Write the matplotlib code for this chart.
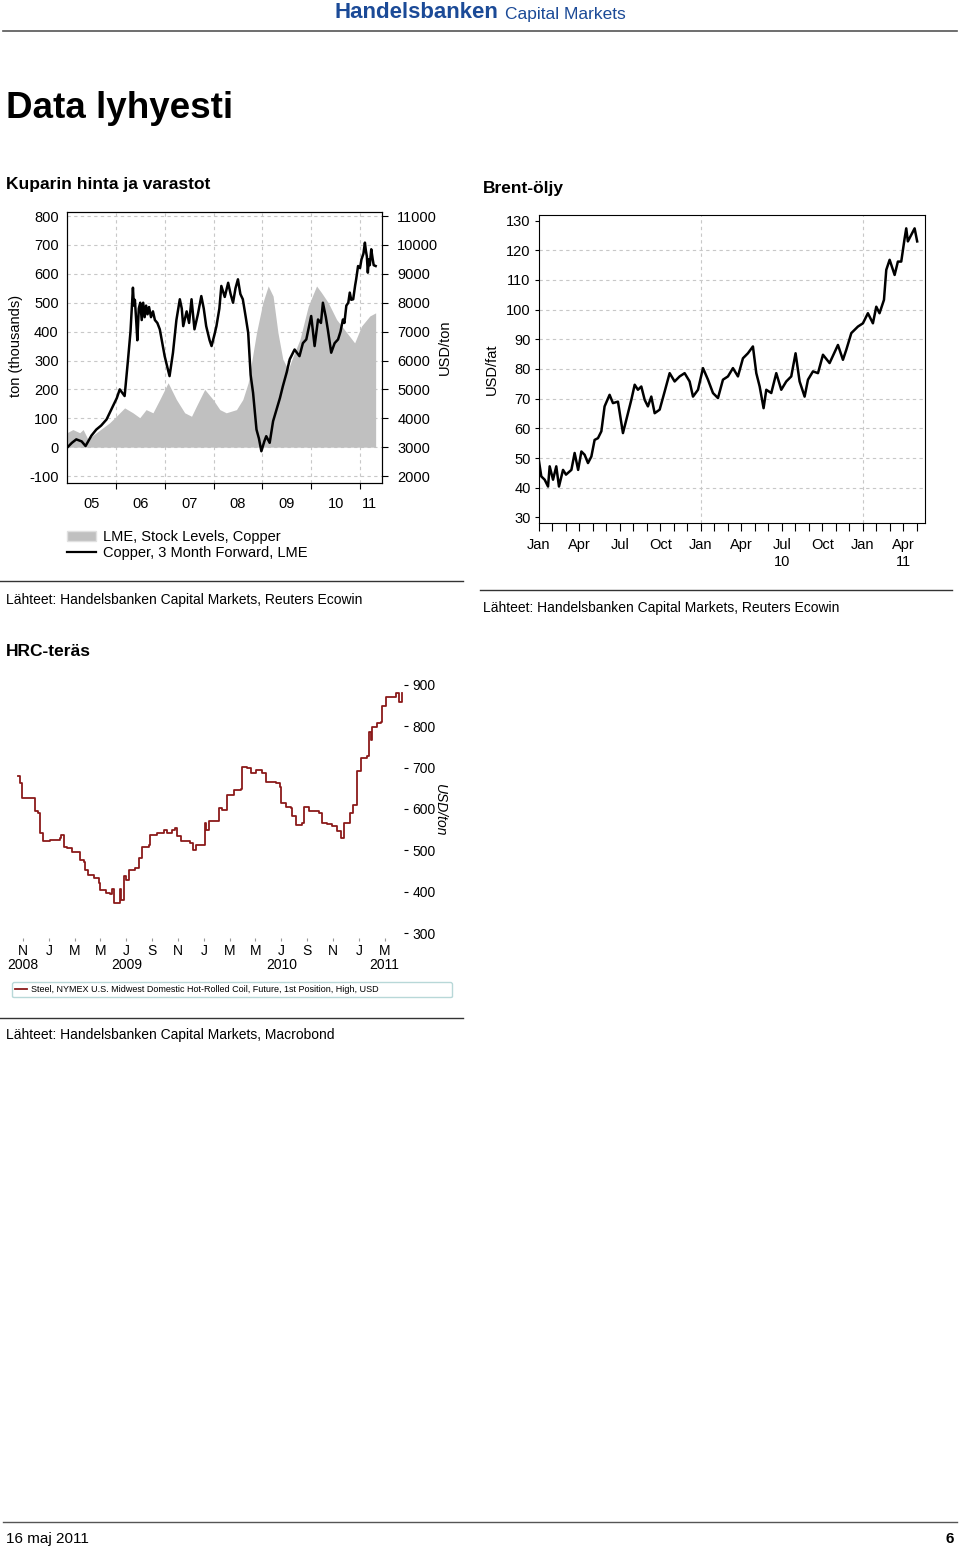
import matplotlib.pyplot as plt
import matplotlib.ticker as mticker
from matplotlib.lines import Line2D
from matplotlib.patches import Patch

plt.rcParams['font.family'] = ['Liberation Sans', 'DejaVu Sans']
plt.rcParams['axes.unicode_minus'] = False

W, H = 960, 1550

# --- Kupari: hinta (USD/ton) ja LME-varastot (tuhatta tonnia) ---
cu_year = [2005.00, 2005.10, 2005.19, 2005.30, 2005.38, 2005.50, 2005.60, 2005.70, 2005.81, 2005.94,
           2006.02, 2006.08, 2006.18, 2006.25, 2006.30, 2006.35, 2006.37, 2006.39, 2006.42, 2006.44,
           2006.47, 2006.50, 2006.53, 2006.56, 2006.59, 2006.62, 2006.65, 2006.68, 2006.72, 2006.76,
           2006.80, 2006.85, 2006.90, 2007.00, 2007.05, 2007.10, 2007.17,
           2007.24, 2007.31, 2007.35, 2007.38, 2007.45, 2007.50, 2007.55, 2007.61, 2007.68, 2007.75,
           2007.80, 2007.85, 2007.92, 2007.96, 2008.02, 2008.06, 2008.12, 2008.16, 2008.23, 2008.30,
           2008.35, 2008.40, 2008.45, 2008.50, 2008.55, 2008.60, 2008.66, 2008.71, 2008.76, 2008.81,
           2008.88, 2008.93, 2008.98, 2009.04, 2009.08, 2009.15, 2009.22, 2009.29, 2009.36, 2009.42,
           2009.50, 2009.56, 2009.66, 2009.76, 2009.83, 2009.90, 2010.00, 2010.07, 2010.14, 2010.20,
           2010.24, 2010.30, 2010.34, 2010.41, 2010.48, 2010.55, 2010.60, 2010.65, 2010.68, 2010.72,
           2010.76, 2010.79, 2010.82, 2010.86, 2010.90, 2010.92, 2010.96, 2011.00, 2011.03, 2011.07,
           2011.10, 2011.12, 2011.14, 2011.16, 2011.18, 2011.20, 2011.23, 2011.26, 2011.28, 2011.32]
cu_price = [2980, 3150, 3270, 3200, 3040, 3400, 3610, 3750, 3960, 4420,
            4700, 5000, 4770, 6040, 7000, 8520, 7900, 8100, 7300, 6700,
            7800, 8000, 7400, 8000, 7500, 7900, 7600, 7850, 7500, 7700,
            7400, 7300, 7080, 6150, 5800, 5460, 6270,
            7400, 8120, 7800, 7190, 7700, 7300, 8120, 7080, 7600, 8230,
            7800, 7190, 6700, 6500, 6900, 7190, 7800, 8580, 8200, 8690,
            8300, 8000, 8500, 8810, 8300, 8120, 7500, 6960, 5500, 4880,
            3610, 3300, 2860, 3200, 3380, 3150, 3900, 4300, 4700, 5110,
            5600, 6040, 6380, 6150, 6600, 6730, 7540, 6500, 7420, 7300,
            8000, 7500, 7080, 6270, 6600, 6730, 7000, 7420, 7300, 7900,
            8000, 8350, 8100, 8120, 8600, 8800, 9270, 9200, 9500, 9700,
            10080, 9800, 9600, 9040, 9500, 9300, 9850, 9500, 9300, 9270]

stock_year = [2005.00, 2005.12, 2005.26, 2005.33, 2005.43, 2005.60, 2005.87, 2006.01, 2006.18, 2006.35,
              2006.49, 2006.62, 2006.76, 2006.90, 2007.07, 2007.24, 2007.41, 2007.55, 2007.65, 2007.82,
              2007.99, 2008.13, 2008.26, 2008.47, 2008.60, 2008.71, 2008.88, 2009.01, 2009.12, 2009.22,
              2009.32, 2009.42, 2009.53, 2009.63, 2009.77, 2009.94, 2010.11, 2010.21, 2010.35, 2010.52,
              2010.73, 2010.89, 2011.03, 2011.20, 2011.32]
stock_kt = [50, 61, 50, 61, 27, 50, 84, 107, 136, 119,
            102, 130, 119, 165, 223, 165, 119, 107, 142, 200,
            165, 130, 119, 130, 165, 223, 396, 500, 558, 523,
            396, 304, 269, 315, 373, 488, 558, 535, 500, 442,
            396, 361, 419, 454, 465]
cu_year_labels = ['05', '06', '07', '08', '09', '10', '11']
cu_year_label_pos = [2005.5, 2006.5, 2007.5, 2008.5, 2009.5, 2010.5, 2011.2]

# --- Brent (USD/fat), x = kuukautta tammikuusta 2009 ---
brent_m = [0.00, 0.17, 0.42, 0.67, 0.79, 1.04, 1.28, 1.48, 1.78, 2.00,
           2.40, 2.64, 2.90, 3.14, 3.38, 3.63, 3.88, 4.12, 4.37, 4.62,
           4.86, 5.23, 5.48, 5.85, 6.22, 6.47, 6.84, 7.09, 7.33, 7.58,
           7.83, 8.07, 8.32, 8.57, 8.94, 9.31, 9.68, 10.05, 10.42, 10.79,
           11.16, 11.41, 11.78, 12.15, 12.52, 12.89, 13.26, 13.63, 14.00, 14.37,
           14.74, 15.11, 15.48, 15.85, 16.10, 16.35, 16.64, 16.84, 17.21, 17.58,
           17.95, 18.32, 18.69, 19.01, 19.31, 19.68, 19.93, 20.30, 20.67, 21.04,
           21.53, 22.15, 22.52, 22.77, 23.14, 23.63, 24.00, 24.37, 24.74, 24.99,
           25.23, 25.56, 25.73, 25.98, 26.35, 26.59, 26.84, 27.09, 27.21, 27.33,
           27.58, 27.83, 28.02]
brent_usd = [48.9, 43.8, 42.7, 40.4, 47.2, 42.7, 47.2, 40.4, 46.0, 44.4,
             46.0, 51.7, 46.0, 52.2, 51.1, 48.3, 50.5, 56.1, 56.7, 59.0,
             67.4, 71.3, 68.5, 69.0, 58.4, 62.9, 69.6, 74.7, 73.0, 74.1,
             69.6, 67.4, 70.7, 65.1, 66.3, 72.4, 78.6, 75.8, 77.5, 78.6,
             75.8, 70.7, 73.0, 80.3, 76.4, 71.9, 70.2, 76.4, 77.5, 80.3,
             77.5, 83.6, 85.3, 87.6, 78.6, 74.1, 66.8, 73.0, 71.9, 78.6,
             73.0, 75.8, 77.5, 85.3, 75.8, 70.7, 76.4, 79.2, 78.6, 84.8,
             82.0, 88.1, 83.1, 86.5, 92.1, 94.3, 95.4, 98.8, 95.4, 101.0,
             98.8, 103.3, 113.4, 116.8, 111.7, 116.2, 116.2, 124.0, 127.4, 123.0,
             125.2, 127.4, 123.0]
brent_tick_m = [0, 3, 6, 9, 12, 15, 18, 21, 24, 27]
brent_tick_labels = ['Jan', 'Apr', 'Jul', 'Oct', 'Jan', 'Apr', 'Jul\n10', 'Oct', 'Jan', 'Apr\n11']

# --- HRC-teräs (USD/ton), x = kuukautta marraskuusta 2008 ---
hrc_m = [-0.41, -0.26, -0.08, 0.78, 0.96, 1.14, 1.34, 1.55, 2.12, 2.89,
         2.95, 3.15, 3.41, 3.80, 4.32, 4.44, 4.70, 4.83, 5.01, 5.48,
         5.87, 6.00, 6.46, 6.77, 6.90, 7.03, 7.42, 7.49, 7.60, 7.75,
         7.86, 8.01, 8.19, 8.71, 8.97, 9.22, 9.74, 9.87, 10.39, 10.90,
         11.16, 11.55, 11.81, 11.94, 12.20, 12.97, 13.18, 13.36, 13.88, 14.06,
         14.21, 14.39, 15.04, 15.17, 15.43, 15.81, 16.33, 16.85, 16.98, 17.36,
         17.62, 18.01, 18.40, 18.53, 18.79, 19.56, 19.90, 20.00, 20.34, 20.72,
         20.85, 21.11, 21.63, 21.76, 22.14, 22.92, 23.18, 23.57, 23.95, 24.34,
         24.60, 24.73, 24.86, 25.17, 25.32, 25.58, 25.76, 25.89, 26.15, 26.67,
         26.80, 26.93, 27.05, 27.39, 27.70, 27.83, 28.09, 28.86, 28.99, 29.12,
         29.25, 29.38]
hrc_usd = [680, 662, 626, 626, 594, 590, 542, 522, 526, 530,
           538, 509, 505, 497, 495, 477, 473, 453, 441, 433,
           421, 405, 398, 395, 406, 373, 373, 406, 381, 381,
           437, 429, 453, 457, 481, 509, 513, 538, 542, 550,
           542, 550, 554, 534, 522, 518, 501, 513, 513, 566,
           550, 570, 570, 602, 598, 634, 647, 648, 701, 699,
           686, 694, 694, 686, 666, 662, 654, 614, 606, 602,
           582, 562, 566, 604, 594, 590, 566, 564, 558, 546,
           530, 530, 566, 566, 590, 610, 610, 691, 723, 727,
           787, 767, 799, 807, 811, 848, 872, 880, 880, 860,
           860, 880]
hrc_tick_m = [0, 2, 4, 6, 8, 10, 12, 14, 16, 18, 20, 22, 24, 26, 28]
hrc_tick_labels = ['N\n2008', 'J', 'M', 'M', 'J\n2009', 'S', 'N', 'J', 'M', 'M',
                   'J\n2010', 'S', 'N', 'J', 'M\n2011']

fig = plt.figure(figsize=(9.6, 15.5), dpi=100)


def box(l, t, r, b):
    return fig.add_axes([l / W, 1 - b / H, (r - l) / W, (b - t) / H])


def ftext(x, y, s, **kw):
    kw.setdefault('va', 'center')
    fig.text(x / W, 1 - y / H, s, **kw)


def rule(x0, x1, y, lw=1.0, color='#333333'):
    fig.add_artist(Line2D([x0 / W, x1 / W], [1 - y / H, 1 - y / H],
                          transform=fig.transFigure, lw=lw, color=color))


# otsikko / logo
ftext(335, 13, 'Handelsbanken', fontsize=16, fontweight='bold', color='#1b4a97')
ftext(505, 14, 'Capital Markets', fontsize=12.5, color='#1b4a97')
rule(3, 957, 31, lw=1.2, color='#555555')
ftext(6, 108, 'Data lyhyesti', fontsize=26.5, fontweight='bold')

grid_kw = dict(color='#c8c8c8', ls=(0, (3, 3)), lw=0.8)

# ---------------- Kupari ----------------
ftext(6, 184, 'Kuparin hinta ja varastot', fontsize=12.5, fontweight='bold')
ax1 = box(67, 212, 382, 483)
ax1.fill_between(stock_year, 0, stock_kt, color='#c0c0c0', lw=0, zorder=1)
ax1.set_xlim(2005.0, 2011.45)
ax1.set_ylim(-124, 814)
ax1.set_yticks(range(-100, 801, 100))
ax1.grid(True, **grid_kw)
ax1.set_axisbelow(True)
ax1.xaxis.set_major_locator(mticker.FixedLocator(range(2006, 2012)))
ax1.xaxis.set_major_formatter(mticker.NullFormatter())
ax1.xaxis.set_minor_locator(mticker.FixedLocator(cu_year_label_pos))
ax1.xaxis.set_minor_formatter(mticker.FixedFormatter(cu_year_labels))
ax1.tick_params(axis='x', which='major', direction='out', length=4, width=0.8)
ax1.tick_params(axis='x', which='minor', length=0, pad=10, labelsize=10.5)
ax1.tick_params(axis='y', length=0, pad=6, labelsize=10.5)
for s in ax1.spines.values():
    s.set_linewidth(0.8)

ax2 = ax1.twinx()
ax2.plot(cu_year, cu_price, color='black', lw=1.8, zorder=3)
ax2.set_ylim(3000 + 10 * -124, 3000 + 10 * 814)
ax2.set_yticks(range(2000, 11001, 1000))
ax2.tick_params(axis='y', direction='out', length=4, width=0.8, pad=7, labelsize=10.5)
ftext(16, 346, 'ton (thousands)', fontsize=10.5, rotation=90, ha='center')
ftext(445, 347, 'USD/ton', fontsize=10.5, rotation=90, ha='center')

ax1.legend(handles=[Patch(facecolor='#c0c0c0', edgecolor='#e0e0e0'),
                    Line2D([], [], color='black', lw=1.6)],
           labels=['LME, Stock Levels, Copper', 'Copper, 3 Month Forward, LME'],
           loc='upper left', bbox_to_anchor=(61 / W, 1 - 524 / H), bbox_transform=fig.transFigure,
           frameon=False, fontsize=10.5, handlelength=2.0, handletextpad=0.5,
           labelspacing=0.15, borderaxespad=0)

rule(0, 463, 581)
ftext(6, 600, 'Lähteet: Handelsbanken Capital Markets, Reuters Ecowin', fontsize=10)

# ---------------- Brent ----------------
ftext(483, 188, 'Brent-öljy', fontsize=12.5, fontweight='bold')
ax3 = box(539, 215, 925, 523)
ax3.plot(brent_m, brent_usd, color='black', lw=1.8)
ax3.set_xlim(0, 28.6)
ax3.set_ylim(28.1, 131.9)
ax3.set_yticks(range(30, 131, 10))
for v in range(40, 121, 10):
    ax3.axhline(v, zorder=0, **grid_kw)
for m in (12, 24):
    ax3.axvline(m, zorder=0, **grid_kw)
ax3.set_xticks(brent_tick_m)
ax3.set_xticklabels(brent_tick_labels, linespacing=1.25)
ax3.xaxis.set_minor_locator(mticker.MultipleLocator(1))
ax3.tick_params(axis='x', which='both', direction='out', length=6, width=0.8, pad=5, labelsize=10.5)
ax3.tick_params(axis='y', direction='out', length=3, width=0.8, pad=3, labelsize=10.5)
for s in ax3.spines.values():
    s.set_linewidth(0.8)
ftext(492, 369, 'USD/fat', fontsize=10.5, rotation=90, ha='center')

rule(480, 952, 590)
ftext(483, 608, 'Lähteet: Handelsbanken Capital Markets, Reuters Ecowin', fontsize=10)

# ---------------- HRC-teräs ----------------
ftext(6, 652, 'HRC-teräs', fontsize=12.5, fontweight='bold')
ax4 = box(10, 680, 404, 938)
ax4.plot(hrc_m, hrc_usd, color='#8b1a1a', lw=1.3, drawstyle='steps-post',
         label='Steel, NYMEX U.S. Midwest Domestic Hot-Rolled Coil, Future, 1st Position, High, USD')
ax4.set_xlim(-1.0, 29.5)
ax4.set_ylim(288, 912)
for s in ax4.spines.values():
    s.set_visible(False)
ax4.yaxis.tick_right()
ax4.set_yticks(range(300, 901, 100))
ax4.tick_params(axis='y', direction='out', length=3, width=0.8, pad=3, labelsize=10)
ax4.set_xticks(hrc_tick_m)
ax4.set_xticklabels(hrc_tick_labels, linespacing=1.05)
ax4.tick_params(axis='x', direction='out', length=2, width=0.8, color='#999999', pad=2, labelsize=10)
ftext(440, 810, 'USD/ton', fontsize=10, rotation=270, ha='center', style='italic')

leg = ax4.legend(loc='upper left', bbox_to_anchor=(12 / W, 1 - 998 / H, 440 / W, 16 / H),
                 bbox_transform=fig.transFigure, mode='expand', fontsize=6.5,
                 handlelength=1.3, handletextpad=0.4, borderpad=0.35, borderaxespad=0,
                 fancybox=True, framealpha=1)
leg.get_frame().set_edgecolor('#b8d8d8')
leg.get_frame().set_linewidth(1.0)

rule(0, 463, 1018)
ftext(6, 1035, 'Lähteet: Handelsbanken Capital Markets, Macrobond', fontsize=10)

# alaviite
rule(3, 957, 1522, lw=1.0, color='#555555')
ftext(6, 1539, '16 maj 2011', fontsize=11)
ftext(954, 1539, '6', fontsize=11, fontweight='bold', ha='right')

fig.savefig('out.png', dpi=100)
